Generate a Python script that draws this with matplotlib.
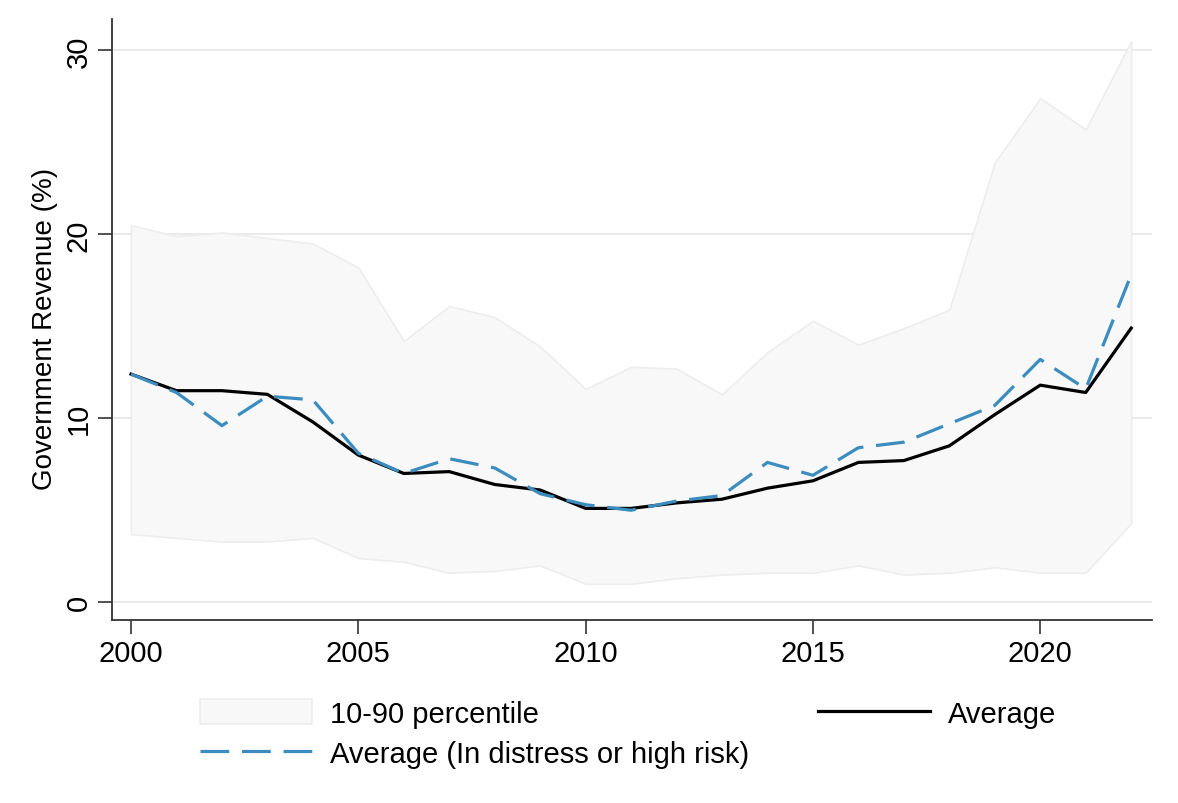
import matplotlib
matplotlib.use("Agg")
import matplotlib.pyplot as plt
from matplotlib.patches import Patch
from matplotlib.lines import Line2D

plt.rcParams['font.family'] = ['Liberation Sans', 'DejaVu Sans']

years = list(range(2000, 2023))
p90 = [20.5, 19.9, 20.1, 19.8, 19.5, 18.2, 14.2, 16.1, 15.5, 13.9, 11.6, 12.8,
       12.7, 11.3, 13.6, 15.3, 14.0, 14.9, 15.9, 23.9, 27.4, 25.7, 30.5]
p10 = [3.7, 3.5, 3.3, 3.3, 3.5, 2.4, 2.2, 1.6, 1.7, 2.0, 1.0, 1.0,
       1.3, 1.5, 1.6, 1.6, 2.0, 1.5, 1.6, 1.9, 1.6, 1.6, 4.3]
avg = [12.4, 11.5, 11.5, 11.3, 9.8, 8.0, 7.0, 7.1, 6.4, 6.1, 5.1, 5.1,
       5.4, 5.6, 6.2, 6.6, 7.6, 7.7, 8.5, 10.2, 11.8, 11.4, 14.9]
avg_distress = [12.4, 11.4, 9.6, 11.2, 11.0, 8.1, 7.0, 7.8, 7.3, 5.9, 5.3, 5.0,
                5.5, 5.8, 7.6, 6.9, 8.4, 8.7, 9.7, 10.7, 13.2, 11.6, 17.8]

xticks = [2000, 2005, 2010, 2015, 2020]
yticks = [0, 10, 20, 30]

band_face = '#f8f8f8'
band_edge = '#ededed'
blue = '#3b8cbf'

fig = plt.figure(figsize=(11.78, 8.04), dpi=100)
ax = fig.add_axes([0.095, 0.228, 0.883, 0.747])

ax.fill_between(years, p10, p90, facecolor=band_face, edgecolor=band_edge,
                linewidth=1.2, zorder=1)
ax.plot(years, avg, color='black', linewidth=2.3, zorder=3)
ax.plot(years, avg_distress, color=blue, linewidth=2.3, dashes=(9, 4), zorder=4)

ax.set_xlim(1999.58, 2022.46)
ax.set_ylim(-0.95, 31.7)
ax.set_xticks(xticks)
ax.set_yticks(yticks)
ax.set_yticklabels([str(v) for v in yticks], rotation=90, va='center')
ax.tick_params(axis='both', labelsize=21, length=10, width=1.2, color='#333333',
               pad=4)
ax.grid(axis='y', color='#e6e6e6', linewidth=1.2, zorder=0)
ax.set_axisbelow(True)
for s in ['top', 'right']:
    ax.spines[s].set_visible(False)
for s in ['left', 'bottom']:
    ax.spines[s].set_color('#333333')
    ax.spines[s].set_linewidth(1.3)
ax.set_ylabel('Government Revenue (%)', fontsize=20)
ax.yaxis.set_label_coords(-0.052, 0.485)

handles = [
    Patch(facecolor=band_face, edgecolor=band_edge, linewidth=1.2),
    Line2D([], [], color=blue, linewidth=2.3, dashes=(9, 4)),
    Line2D([], [], color='black', linewidth=2.3),
]
labels = ['10-90 percentile', 'Average (In distress or high risk)', 'Average']
fig.legend(handles, labels, ncol=2, loc='center', bbox_to_anchor=(0.533, 0.086),
           frameon=False, fontsize=21, handlelength=3.84, handleheight=0.93,
           handletextpad=0.62, columnspacing=2.35, labelspacing=0.42)

fig.savefig('out.png', dpi=100, facecolor='white')
